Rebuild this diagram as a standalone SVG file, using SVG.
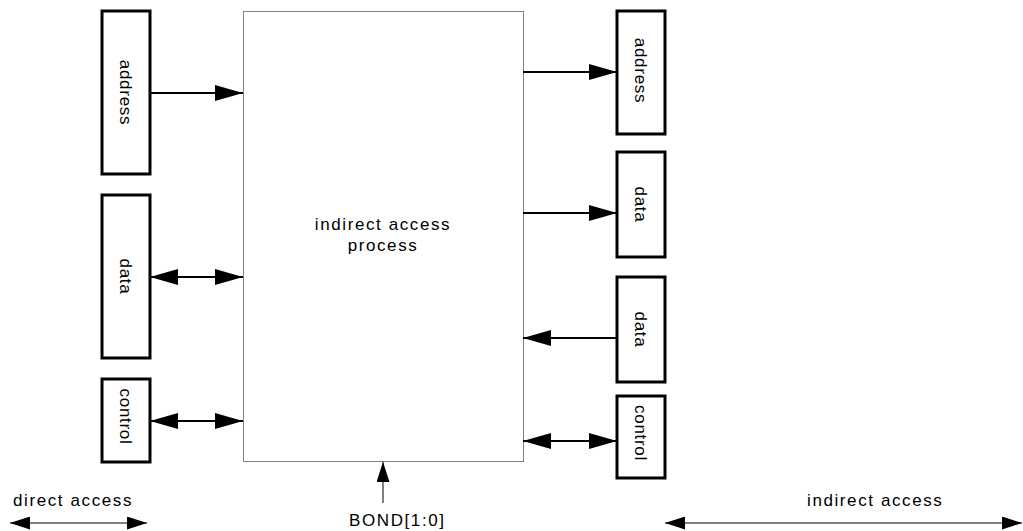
<svg xmlns="http://www.w3.org/2000/svg" width="1023" height="531" viewBox="0 0 1023 531">
<style>
.box{fill:#fff;stroke:#000;stroke-width:3}
.main{fill:#fff;stroke:#808080;stroke-width:1}
.conn{stroke:#000;stroke-width:2;fill:none}
.thin{stroke:#000;stroke-width:1;fill:none}
.t{font-family:"Liberation Sans",Arial,sans-serif;font-size:17px;fill:#000;letter-spacing:1.6px}
.v{font-family:"Liberation Sans",Arial,sans-serif;font-size:17px;fill:#000;letter-spacing:0.7px;text-anchor:middle}
</style>
<defs>
<marker id="ah" markerUnits="userSpaceOnUse" markerWidth="28" markerHeight="16" refX="28" refY="8" orient="auto-start-reverse" viewBox="0 0 28 16"><path d="M0,0 L28,8 L0,16 z" fill="#000"/></marker>
<marker id="sh" markerUnits="userSpaceOnUse" markerWidth="20" markerHeight="13" refX="20" refY="6.5" orient="auto-start-reverse" viewBox="0 0 20 13"><path d="M0,0 L20,6.5 L0,13 z" fill="#000"/></marker>
</defs>
<g id="process">
<rect class="main" x="243.5" y="11.5" width="280" height="450"/>
<text class="t" x="383" y="230" text-anchor="middle">indirect access</text>
<text class="t" x="383" y="251" text-anchor="middle">process</text>
</g>
<g id="l-address"><rect class="box" x="102" y="11" width="48" height="163"/><text class="v" transform="translate(126,92.5) rotate(90)" dy=".35em">address</text></g>
<g id="l-data"><rect class="box" x="102" y="195" width="48" height="163"/><text class="v" transform="translate(126,276.5) rotate(90)" dy=".35em">data</text></g>
<g id="l-control"><rect class="box" x="102" y="379" width="48" height="83"/><text class="v" transform="translate(126,416.5) rotate(90)" dy=".35em">control</text></g>
<g id="r-address"><rect class="box" x="617" y="11" width="48" height="123"/><text class="v" transform="translate(641,70.5) rotate(90)" dy=".35em">address</text></g>
<g id="r-data1"><rect class="box" x="617" y="152" width="48" height="105"/><text class="v" transform="translate(641,204.5) rotate(90)" dy=".35em">data</text></g>
<g id="r-data2"><rect class="box" x="617" y="277" width="48" height="105"/><text class="v" transform="translate(641,329.5) rotate(90)" dy=".35em">data</text></g>
<g id="r-control"><rect class="box" x="617" y="396" width="48" height="82"/><text class="v" transform="translate(641,433) rotate(90)" dy=".35em">control</text></g>
<g id="labels">
<text class="t" x="13" y="506">direct access</text>
<text class="t" x="807" y="506">indirect access</text>
<text class="t" x="349" y="526">BOND[1:0]</text>
</g>
<g id="connectors">
<line class="conn" x1="150" y1="93" x2="243" y2="93" marker-end="url(#ah)"/>
<line class="conn" x1="150" y1="277" x2="243" y2="277" marker-start="url(#ah)" marker-end="url(#ah)"/>
<line class="conn" x1="150" y1="421" x2="243" y2="421" marker-start="url(#ah)" marker-end="url(#ah)"/>
<line class="conn" x1="523" y1="72" x2="617" y2="72" marker-end="url(#ah)"/>
<line class="conn" x1="523" y1="213" x2="617" y2="213" marker-end="url(#ah)"/>
<line class="conn" x1="617" y1="338" x2="523" y2="338" marker-end="url(#ah)"/>
<line class="conn" x1="523" y1="441" x2="617" y2="441" marker-start="url(#ah)" marker-end="url(#ah)"/>
<line class="thin" x1="383" y1="503" x2="383" y2="462" marker-end="url(#sh)"/>
<line class="thin" x1="10" y1="523" x2="147" y2="523" marker-start="url(#sh)" marker-end="url(#sh)"/>
<line class="thin" x1="665" y1="523" x2="1022" y2="523" marker-start="url(#sh)" marker-end="url(#sh)"/>
</g>
</svg>
